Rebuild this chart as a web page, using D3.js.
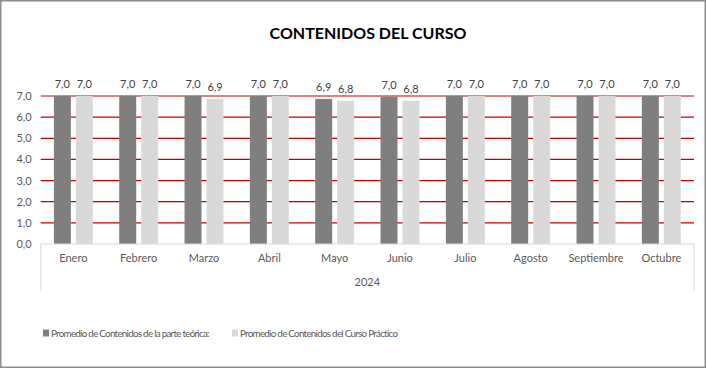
<!DOCTYPE html>
<html><head><meta charset="utf-8">
<script src="https://cdn.jsdelivr.net/npm/d3@7"></script>
<style>body{margin:0;background:#fff;} svg{display:block;} text{font-family:Lato,"Open Sans",sans-serif;}</style>
</head><body>
<svg id="c" width="706" height="368"></svg>
<script>
const months = ["Enero","Febrero","Marzo","Abril","Mayo","Junio","Julio","Agosto","Septiembre","Octubre"];
const teorica = [7.0,7.0,7.0,7.0,6.86,6.96,7.0,7.0,7.0,7.0];
const practico = [7.0,7.0,6.86,7.0,6.78,6.78,7.0,7.0,7.0,7.0];
const seriesNames = ["Promedio de Contenidos de la parte teórica:","Promedio de Contenidos del Curso Práctico"];
const yTicks = [0,1,2,3,4,5,6,7];
const yearLabel = "2024";
const title = "CONTENIDOS DEL CURSO";
const colors = ["#7f7f7f","#d9d9d9"];

const svg = d3.select("#c");
const loc = d3.formatLocale({decimal:",",thousands:".",grouping:[3],currency:["","€"]});
const fmt = loc.format(".1f");
const FF = "Lato,'Open Sans',sans-serif";

svg.append("rect").attr("x",0.75).attr("y",0.75).attr("width",704.5).attr("height",366.5)
  .attr("fill","#fff").attr("stroke","#8c8c8c").attr("stroke-width",1.5);

svg.append("text").attr("x",368).attr("y",39).attr("text-anchor","middle").attr("font-family",FF)
  .attr("font-size",16).attr("font-weight","bold").attr("fill","#000").text(title);

const L=40.7,R=694,Y0=244,Y7=96;
const x0 = d3.scaleBand().domain(months).range([L,R]);
const x1 = d3.scaleBand().domain([0,1]).range([0,x0.bandwidth()]).paddingInner(0.227).paddingOuter(0.6);
const y = d3.scaleLinear().domain([0,7]).range([Y0,Y7]);

// gridlines
svg.append("g").selectAll("line").data(yTicks.filter(d=>d>0)).join("line")
  .attr("x1",L).attr("x2",R).attr("y1",d=>y(d)).attr("y2",d=>y(d))
  .attr("stroke","#c00000").attr("stroke-width",1.2);

// y axis labels
const ya = d3.axisLeft(y).tickValues(yTicks).tickFormat(fmt).tickSize(0).tickPadding(9);
const yg = svg.append("g").attr("transform",`translate(${L},0)`).call(ya);
yg.select(".domain").remove();
yg.selectAll("text").attr("font-size",11).attr("fill","#595959").attr("font-family",FF);

const data = months.map((m,i)=>({m,v:[teorica[i],practico[i]]}));
const groups = svg.append("g").selectAll("g").data(data).join("g")
  .attr("transform",d=>`translate(${x0(d.m)},0)`);
groups.selectAll("rect").data(d=>d.v.map((v,k)=>({v,k}))).join("rect")
  .attr("x",d=>x1(d.k)).attr("width",x1.bandwidth())
  .attr("y",d=>y(d.v)).attr("height",d=>Y0-y(d.v)).attr("fill",d=>colors[d.k]);
groups.selectAll("text.lab").data(d=>d.v.map((v,k)=>({v,k}))).join("text").attr("class","lab")
  .attr("x",d=>x1(d.k)+x1.bandwidth()/2).attr("y",d=>y(d.v)-8).attr("font-family",FF)
  .attr("text-anchor","middle").attr("font-size",11).attr("fill","#404040").text(d=>fmt(d.v));

// category axis
const xa = d3.axisBottom(x0).tickSize(0).tickPadding(10);
const xg = svg.append("g").attr("transform",`translate(0,${Y0})`).call(xa);
xg.select(".domain").attr("stroke","#d9d9d9").attr("d",`M${L},0H${R}`);
xg.selectAll("text").attr("font-size",11).attr("fill","#595959").attr("font-family",FF);
svg.append("g").selectAll("line").data([L,R]).join("line")
  .attr("x1",d=>d).attr("x2",d=>d).attr("y1",Y0).attr("y2",291).attr("stroke","#d9d9d9");
svg.append("text").attr("x",(L+R)/2).attr("y",286).attr("text-anchor","middle").attr("font-family",FF)
  .attr("font-size",11).attr("fill","#595959").text(yearLabel);

// legend
const legX=[43,232];
const lg = svg.append("g").selectAll("g").data(seriesNames).join("g")
  .attr("transform",(d,i)=>`translate(${legX[i]},333)`);
lg.append("rect").attr("x",0).attr("y",-3.5).attr("width",6).attr("height",7).attr("fill",(d,i)=>colors[i]);
lg.append("text").attr("x",8).attr("y",3.6).attr("font-size",9.8).attr("fill","#595959").attr("font-family",FF)
  .attr("letter-spacing",-0.72).text(d=>d);
</script>
</body></html>
